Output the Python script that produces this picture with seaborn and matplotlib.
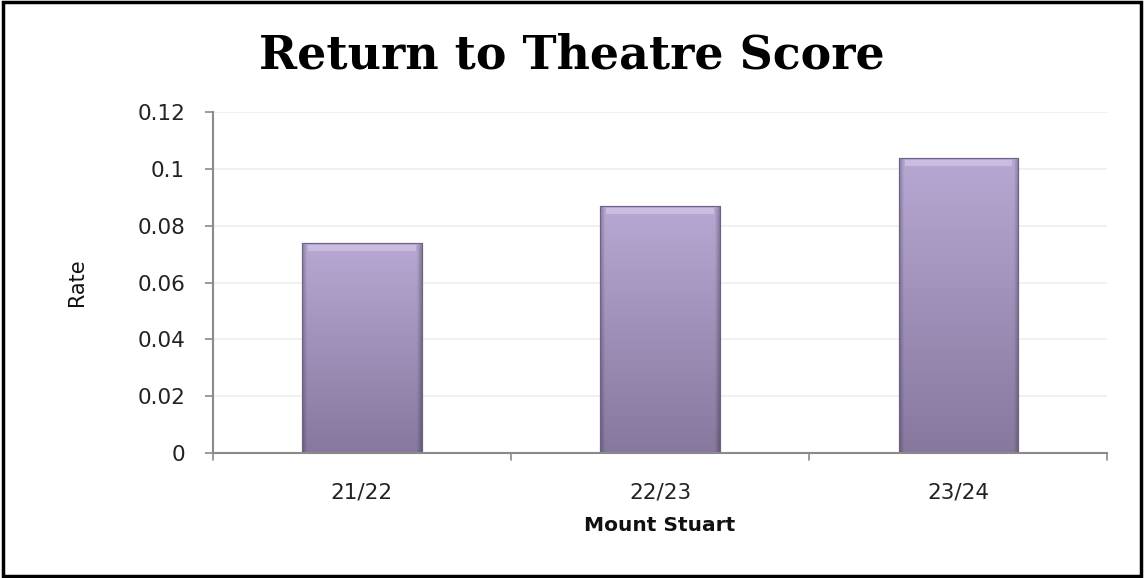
import numpy as np
import pandas as pd
import matplotlib
matplotlib.use("Agg")
import matplotlib.pyplot as plt
import seaborn as sns
from matplotlib.patches import Rectangle

categories = ["21/22", "22/23", "23/24"]
rates = [0.074, 0.087, 0.104]
y_ticks = [0, 0.02, 0.04, 0.06, 0.08, 0.1, 0.12]
y_tick_labels = ["0", "0.02", "0.04", "0.06", "0.08", "0.1", "0.12"]

sns.set_style("white")
plt.rcParams['font.family'] = ['DejaVu Sans']

df = pd.DataFrame({"Year": categories, "Rate": rates})

fig = plt.figure(figsize=(11.44, 5.78), dpi=100)
ax = fig.add_axes([0.186, 0.216, 0.782, 0.59])

sns.barplot(data=df, x="Year", y="Rate", color="#a08fbd", width=0.4, ax=ax,
            edgecolor="#6f6285", linewidth=0.8)

# vertical gradient fill clipped to each bar
grad = np.linspace(0, 1, 256).reshape(-1, 1)
top_c = np.array([0.72, 0.66, 0.83])
bot_c = np.array([0.53, 0.47, 0.62])
img = top_c[None, None, :] * (1 - grad[:, :, None]) + bot_c[None, None, :] * grad[:, :, None]
# side bevel shading
hx = np.linspace(0, 1, 128)
side = np.clip(1 - np.maximum(0, 0.04 - np.minimum(hx, 1 - hx)) / 0.04 * 0.25, 0, 1)
img = img * side[None, :, None]
for p in list(ax.patches):
    x0, y0 = p.get_x(), p.get_y()
    w, h = p.get_width(), p.get_height()
    im = ax.imshow(img, extent=[x0, x0 + w, y0, y0 + h], aspect="auto",
                   origin="upper", zorder=p.get_zorder() + 0.1, interpolation="bilinear")
    im.set_clip_path(p)
    ax.add_patch(Rectangle((x0 + w * 0.05, y0 + h - 0.0028), w * 0.90, 0.002,
                           facecolor="#e4d9f5", edgecolor="none", zorder=p.get_zorder() + 0.2, alpha=0.45))
    ax.add_patch(Rectangle((x0, y0), w, h, facecolor="none", edgecolor="#6f6285",
                           linewidth=0.8, zorder=p.get_zorder() + 0.3))

ax.set_xlim(-0.5, 2.5)
ax.set_ylim(0, 0.12)
ax.set_yticks(y_ticks)
ax.set_yticklabels(y_tick_labels, fontsize=15.5, color="#222222")
ax.set_xticks(range(len(categories)))
ax.set_xticklabels(categories, fontsize=15.5, color="#222222")
ax.tick_params(axis="x", length=0, pad=21)
ax.tick_params(axis="y", length=6, width=1.2, color="#8a8a8a", pad=14, left=True, direction="out")
for b in [-0.5, 0.5, 1.5, 2.5]:
    ax.plot([b, b], [0, -0.0025], color="#8a8a8a", lw=1.2, clip_on=False)

ax.yaxis.grid(True, color="#ededed", linewidth=1.2)
ax.set_axisbelow(True)
for s in ["top", "right"]:
    ax.spines[s].set_visible(False)
for s in ["left", "bottom"]:
    ax.spines[s].set_color("#8a8a8a")
    ax.spines[s].set_linewidth(1.5)

ax.set_xlabel("Mount Stuart", fontsize=14.5, fontweight="bold", color="#111111")
ax.xaxis.set_label_coords(0.5, -0.185)
ax.set_ylabel("Rate", fontsize=15, color="#111111")
ax.yaxis.set_label_coords(-0.141, 0.5)

fig.text(0.5, 0.881, "Return to Theatre Score", ha="center", va="baseline",
         fontsize=33, fontweight="bold", color="black", family=["DejaVu Serif"])

fig.patches.append(Rectangle((0.003, 0.004), 0.994, 0.992, transform=fig.transFigure,
                             facecolor="none", edgecolor="black", linewidth=2.5))

fig.savefig("out.png", dpi=100)
